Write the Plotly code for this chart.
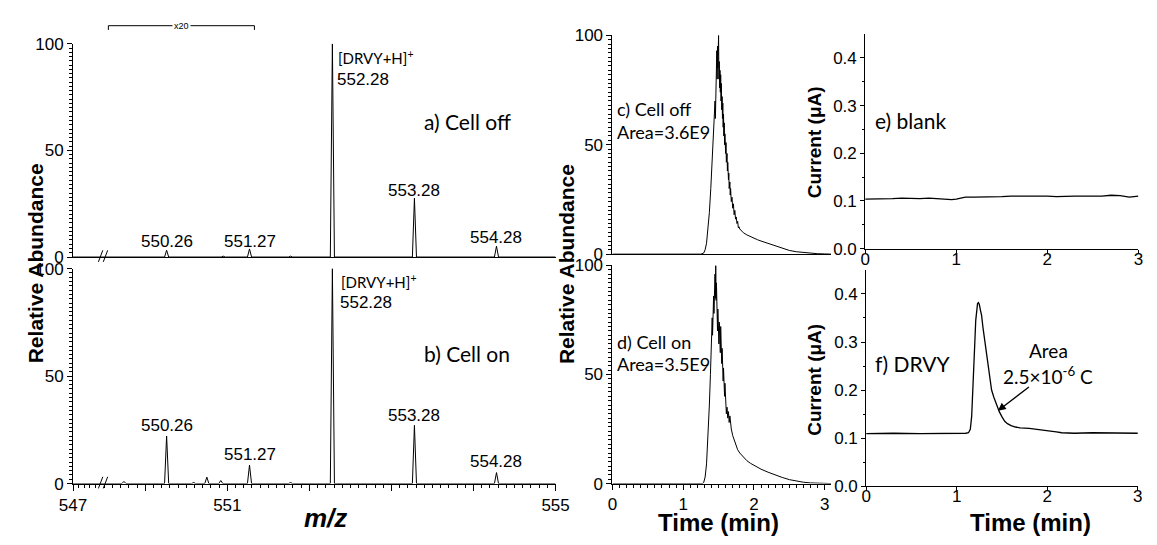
import plotly.graph_objects as go

W, H = 1157, 545

# ---------------- data ----------------
# mass spectra (m/z, relative abundance)
peak_mz_a = [550.26, 550.95, 551.27, 551.77, 552.28, 553.28, 554.28]
peak_int_a = [3.2, 0.4, 3.8, 0.4, 100, 27.6, 5.1]
peak_mz_b = [549.74, 550.26, 550.59, 550.75, 550.92, 551.27, 551.77, 552.28, 553.28, 554.28]
peak_int_b = [1.0, 22.1, 0.5, 3.0, 1.4, 8.6, 0.5, 100, 27.1, 5.1]
label_mz = [550.26, 551.27, 553.28, 554.28]
base_mz = 552.28
mz_break = [547, 549.4, 549.45, 555]      # left segment / right segment limits
zoom_region = [549.55, 551.33]            # "x20" bracket

# extracted-ion chromatograms (min, relative abundance)
t_c = [0, 1.0, 1.25, 1.29, 1.31, 1.33, 1.35, 1.37, 1.39, 1.41, 1.43, 1.44, 1.45, 1.455, 1.46, 1.465,
       1.47, 1.475, 1.48, 1.485, 1.49, 1.495, 1.50, 1.505, 1.51, 1.515, 1.52, 1.525, 1.53, 1.535,
       1.54, 1.545, 1.55, 1.555, 1.56, 1.565, 1.57, 1.575, 1.58, 1.585, 1.59, 1.60, 1.605, 1.61,
       1.62, 1.625, 1.63, 1.64, 1.645, 1.65, 1.66, 1.665, 1.67, 1.68, 1.69, 1.70, 1.71, 1.72,
       1.73, 1.74, 1.75, 1.76, 1.77, 1.78, 1.79, 1.80, 1.85, 1.90, 1.95, 2.00, 2.05, 2.10, 2.20,
       2.30, 2.40, 2.50, 2.60, 2.70, 2.80, 2.90, 3.00, 3.09]
v_c = [0, 0, 0, 0.5, 2, 5, 11, 19, 30, 44, 58, 64, 70, 62, 78, 84,
       76, 93, 80, 95, 85, 92, 100, 80, 88, 76, 84, 74, 82, 70,
       78, 66, 72, 62, 69, 58, 64, 54, 60, 50, 55, 46, 51, 42,
       46, 38, 42, 34, 37, 30, 33, 27, 30, 24, 26, 21, 23, 18,
       20, 16, 17, 14, 15, 12, 12.5, 11.5, 9.8, 8.8, 8.0, 7.2, 6.6, 6.0, 4.9,
       3.7, 2.6, 1.7, 1.1, 0.7, 0.4, 0.2, 0.1, 0]

t_d = [0, 1.0, 1.27, 1.29, 1.31, 1.33, 1.35, 1.37, 1.385, 1.395, 1.40, 1.405, 1.41, 1.415, 1.42,
       1.425, 1.43, 1.435, 1.44, 1.445, 1.45, 1.455, 1.46, 1.465, 1.47, 1.475, 1.48, 1.485, 1.49,
       1.495, 1.50, 1.505, 1.51, 1.515, 1.52, 1.525, 1.53, 1.535, 1.54, 1.545, 1.55, 1.555, 1.56,
       1.565, 1.57, 1.575, 1.58, 1.585, 1.59, 1.60, 1.605, 1.61, 1.62, 1.63, 1.64, 1.65, 1.66,
       1.67, 1.68, 1.70, 1.72, 1.74, 1.77, 1.80, 1.85, 1.90, 1.95, 2.00, 2.05, 2.10, 2.20, 2.30,
       2.40, 2.50, 2.60, 2.70, 2.80, 2.90, 3.00, 3.09]
v_d = [0, 0, 0, 0.5, 3, 9, 20, 36, 50, 62, 70, 64, 76, 68, 80,
       74, 86, 78, 90, 82, 96, 85, 100, 84, 92, 74, 86, 70, 80,
       68, 78, 64, 74, 62, 70, 60, 72, 58, 66, 55, 62, 50, 58,
       47, 53, 44, 50, 40, 46, 36, 40, 32, 35, 30, 33, 28, 31,
       26, 25, 22, 20, 18, 15.5, 14, 12, 10.5, 9.3, 8.4, 7.5, 6.6, 5.2, 3.9,
       2.8, 1.8, 1.1, 0.6, 0.3, 0.15, 0.05, 0]

# amperometric current (min, uA)
t_e = [0, 0.1, 0.2, 0.3, 0.4, 0.5, 0.6, 0.7, 0.8, 0.9, 0.95, 1.0, 1.05, 1.1, 1.2, 1.3, 1.4, 1.5,
       1.6, 1.7, 1.8, 1.9, 2.0, 2.1, 2.2, 2.3, 2.4, 2.5, 2.6, 2.7, 2.8, 2.9, 3.0]
i_e = [0.104, 0.104, 0.105, 0.105, 0.106, 0.105, 0.105, 0.106, 0.105, 0.103, 0.103, 0.104, 0.106,
       0.108, 0.108, 0.108, 0.108, 0.109, 0.110, 0.110, 0.111, 0.110, 0.110, 0.109, 0.110, 0.110,
       0.110, 0.110, 0.110, 0.112, 0.111, 0.108, 0.110]

t_f = [0, 0.3, 0.6, 0.9, 1.0, 1.10, 1.13, 1.15, 1.165, 1.18, 1.19, 1.20, 1.21, 1.22, 1.23, 1.24,
       1.25, 1.26, 1.275, 1.29, 1.31, 1.33, 1.35, 1.37, 1.385, 1.41, 1.44, 1.47, 1.50, 1.53, 1.56,
       1.60, 1.65, 1.70, 1.80, 1.90, 2.00, 2.10, 2.16, 2.3, 2.5, 2.7, 2.9, 3.0]
i_f = [0.109, 0.110, 0.109, 0.109, 0.109, 0.110, 0.111, 0.118, 0.145, 0.20, 0.25, 0.30, 0.345, 0.37,
       0.38, 0.382, 0.378, 0.368, 0.355, 0.33, 0.303, 0.27, 0.24, 0.215, 0.20, 0.185, 0.168, 0.155,
       0.144, 0.135, 0.130, 0.126, 0.123, 0.121, 0.120, 0.118, 0.116, 0.113, 0.111, 0.110, 0.111,
       0.110, 0.110, 0.110]
arrow_tip = [1.455, 0.157]

# ---------------- helpers ----------------
AR = "Liberation Sans, Arial, sans-serif"
CAL = "Lato, Carlito, Calibri, sans-serif"


def xd(a, b):
    return [a / W, b / W]


def yd(top, bot):
    return [1 - bot / H, 1 - top / H]


def px(x):
    return x / W


def py(y):
    return 1 - y / H


def profile(mz, inten, lo, hi, hw=0.025):
    xs, ys = [lo], [0]
    for m, h in sorted(zip(mz, inten)):
        xs += [m - hw, m, m + hw]
        ys += [0, h, 0]
    xs.append(hi)
    ys.append(0)
    return xs, ys


base_ax = dict(showline=True, linecolor="black", linewidth=1, showgrid=False, zeroline=False,
               ticks="outside", tickcolor="black", tickwidth=1,
               tickfont=dict(family=AR, size=17, color="black"))

fig = go.Figure()
line = dict(color="black", width=1)

# left (compressed) segments of the broken m/z axis: flat baseline
fig.add_trace(go.Scatter(x=mz_break[:2], y=[0, 0], mode="lines", line=line, xaxis="x2", yaxis="y"))
fig.add_trace(go.Scatter(x=mz_break[:2], y=[0, 0], mode="lines", line=line, xaxis="x4", yaxis="y2"))

xa, ya = profile(peak_mz_a, peak_int_a, mz_break[2], mz_break[3])
fig.add_trace(go.Scatter(x=xa, y=ya, mode="lines", line=line, xaxis="x", yaxis="y"))
xb, yb = profile(peak_mz_b, peak_int_b, mz_break[2], mz_break[3])
fig.add_trace(go.Scatter(x=xb, y=yb, mode="lines", line=line, xaxis="x3", yaxis="y2"))
fig.add_trace(go.Scatter(x=t_c, y=v_c, mode="lines", line=line, xaxis="x5", yaxis="y3"))
fig.add_trace(go.Scatter(x=t_d, y=v_d, mode="lines", line=line, xaxis="x6", yaxis="y4"))
fig.add_trace(go.Scatter(x=t_e, y=i_e, mode="lines", line=dict(color="black", width=1.3),
                         xaxis="x7", yaxis="y5"))
fig.add_trace(go.Scatter(x=t_f, y=i_f, mode="lines", line=dict(color="black", width=1.3),
                         xaxis="x8", yaxis="y6"))

ab_minor = dict(dtick=2, ticklen=3, ticks="outside", tickcolor="black")
yab = dict(base_ax, range=[0, 100], tickvals=[0, 50, 100], ticklen=5, minor=ab_minor)

L0, LB, R0 = 60.5, 88.3, 555
fig.update_layout(
    width=W, height=H, margin=dict(l=0, r=0, t=0, b=0),
    paper_bgcolor="white", plot_bgcolor="white", showlegend=False,
    # panel a
    xaxis=dict(base_ax, domain=xd(LB, R0), range=mz_break[2:], anchor="y",
               showticklabels=False, ticks=""),
    xaxis2=dict(base_ax, domain=xd(L0, LB), range=mz_break[:2], anchor="y",
                showticklabels=False, ticks=""),
    yaxis=dict(yab, domain=yd(36, 257), anchor="x2"),
    # panel b
    xaxis3=dict(base_ax, domain=xd(LB, R0), range=mz_break[2:], anchor="y2",
                tickvals=[550, 551, 552, 553, 554, 555],
                ticktext=[" ", "551", " ", " ", " ", "555"], ticklen=6,
                minor=dict(dtick=0.1, ticklen=3, ticks="outside", tickcolor="black")),
    xaxis4=dict(base_ax, domain=xd(L0, LB), range=mz_break[:2], anchor="y2",
                tickvals=[547], ticktext=["547"], ticklen=6,
                minor=dict(dtick=0.5, ticklen=3, ticks="outside", tickcolor="black")),
    yaxis2=dict(yab, domain=yd(269, 491.7), anchor="x4"),
    # panel c
    xaxis5=dict(base_ax, domain=xd(613.3, 837.3), range=[0, 3.09], anchor="y3",
                showticklabels=False, ticks=""),
    yaxis3=dict(yab, domain=yd(27.3, 254), anchor="x5"),
    # panel d
    xaxis6=dict(base_ax, domain=xd(613.3, 837.3), range=[0, 3.09], anchor="y4",
                tickvals=[0, 1, 2, 3], ticklen=5,
                minor=dict(dtick=0.1, ticklen=3, ticks="outside", tickcolor="black")),
    yaxis4=dict(yab, domain=yd(265.7, 491.7), anchor="x6"),
    # panel e
    xaxis7=dict(base_ax, domain=xd(872.3, 1152.3), range=[0, 3], anchor="y5",
                tickvals=[0, 1, 2, 3], ticklen=4, ticklabelstandoff=-9),
    yaxis5=dict(base_ax, domain=yd(26, 248.3), range=[0, 0.45], anchor="x7",
                tickvals=[0, 0.1, 0.2, 0.3, 0.4], ticktext=["0.0", "0.1", "0.2", "0.3", "0.4"],
                ticklen=4, minor=dict(tickvals=[0.05, 0.15, 0.25, 0.35], ticklen=2,
                                      ticks="outside", tickcolor="black")),
    # panel f
    xaxis8=dict(base_ax, domain=xd(873.3, 1151.7), range=[0, 3], anchor="y6",
                tickvals=[0, 1, 2, 3], ticklen=4, ticklabelstandoff=-9),
    yaxis6=dict(base_ax, domain=yd(270.4, 494.3), range=[0, 0.45], anchor="x8",
                tickvals=[0, 0.1, 0.2, 0.3, 0.4], ticktext=["0.0", "0.1", "0.2", "0.3", "0.4"],
                ticklen=4, minor=dict(tickvals=[0.05, 0.15, 0.25, 0.35], ticklen=2,
                                      ticks="outside", tickcolor="black")),
)

ann = []


def A(text, x, y, size, family=CAL, xanchor="center", angle=0, xref="paper", xshift=0, **kw):
    ann.append(dict(text=text, x=x if xref != "paper" else px(x), y=py(y), xref=xref, yref="paper",
                    showarrow=False, xanchor=xanchor, yanchor="middle", textangle=angle,
                    xshift=xshift, font=dict(family=family, size=size, color="black"), **kw))


# axis titles
A("<b>Relative Abundance</b>", 22, 263, 21, AR, angle=-90)
A("<b>Relative Abundance</b>", 567, 264, 21, AR, angle=-90)
A("<b>Current (μA)</b>", 820, 138, 19, AR, angle=-90)
A("<b>Current (μA)</b>", 820, 384, 19, AR, angle=-90)
A("<b><i>m/z</i></b>", 319, 527, 26, AR)
A("<b>Time (min)</b>", 722, 532, 24, AR)
A("<b>Time (min)</b>", 1042, 532, 24, AR)

# panel labels
A("a) Cell off", 465, 117, 21)
A("b) Cell on", 464, 357, 21)
A("[DRVY+H]<sup>+</sup>", 330, 50, 15, xanchor="left")
A("[DRVY+H]<sup>+</sup>", 333, 282, 15, xanchor="left")
A("c) Cell off", 616, 104, 18, xanchor="left")
A("Area=3.6E9", 616, 127, 18, xanchor="left")
A("d) Cell on", 616, 345, 18, xanchor="left")
A("Area=3.5E9", 616, 368, 18, xanchor="left")
A("e) blank", 880, 116, 21, xanchor="left")
A("f) DRVY", 880, 367, 21, xanchor="left")
A("Area", 1060, 354, 19)
A("2.5×10<sup>-6</sup> C", 1060, 380, 19)

# peak labels
ya_lab = [241, 241, 188, 237]
yb_lab = [432, 462, 421, 469]
for m, y in zip(label_mz, ya_lab):
    A(f"{m:.2f}", m, y, 17, AR, xref="x")
for m, y in zip(label_mz, yb_lab):
    A(f"{m:.2f}", m, y, 17, AR, xref="x3")
A(f"{base_mz:.2f}", base_mz, 73, 17, AR, xref="x", xanchor="left", xshift=3)
A(f"{base_mz:.2f}", base_mz, 304, 17, AR, xref="x3", xanchor="left", xshift=6)

# x20 label
A("x20", (zoom_region[0] + zoom_region[1]) / 2, 17.5, 9, AR, xref="x", bgcolor="white")

# arrow in f
ann.append(dict(x=arrow_tip[0], y=arrow_tip[1], xref="x8", yref="y6", ax=34, ay=-26,
                showarrow=True, arrowhead=2, arrowsize=1.2, arrowwidth=1.3, arrowcolor="black",
                text=" "))
fig.update_layout(annotations=ann)

shapes = []
# x20 bracket
for xv in zoom_region:
    shapes.append(dict(type="line", xref="x", yref="paper", x0=xv, x1=xv, y0=py(17.3), y1=py(21.7),
                       line=dict(color="black", width=1)))
shapes.append(dict(type="line", xref="x", yref="paper", x0=zoom_region[0], x1=zoom_region[1],
                   y0=py(17.3), y1=py(17.3), line=dict(color="black", width=1), layer="below"))
# axis break marks
for y0 in (257, 491.7):
    for dx in (0, 5):
        shapes.append(dict(type="line", xref="paper", yref="paper",
                           x0=px(86.5 + dx), y0=py(y0 + 5), x1=px(91 + dx), y1=py(y0 - 7),
                           line=dict(color="black", width=1)))
fig.update_layout(shapes=shapes)

fig.write_html("out.html", config={"displayModeBar": False},
               post_script="document.body.style.margin='0px';document.body.style.overflow='hidden';")
